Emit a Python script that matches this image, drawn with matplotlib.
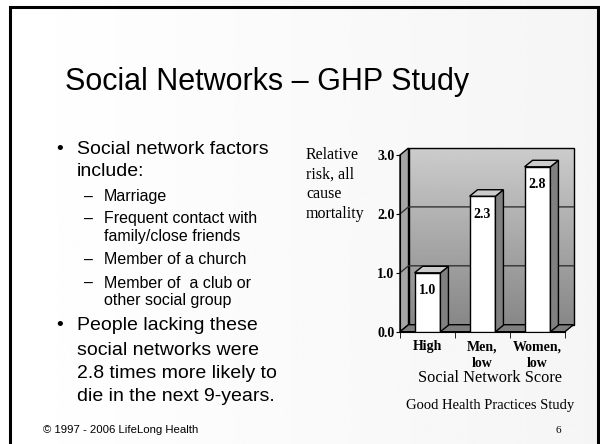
import numpy as np
import matplotlib
matplotlib.use('Agg')
import matplotlib.pyplot as plt
from matplotlib.patches import Polygon, Rectangle

# 데이터
categories = ['High', 'Men,\nlow', 'Women,\nlow']
values = [1.0, 2.3, 2.8]
value_labels = ['1.0', '2.3', '2.8']
y_ticks = [0.0, 1.0, 2.0, 3.0]

title = 'Social Networks \u2013 GHP Study'
# (기호, 줄 목록, 레벨)
bullets = [
    ('\u2022', ['Social network factors', 'include:'], 0),
    ('\u2013', ['Marriage'], 1),
    ('\u2013', ['Frequent contact with', 'family/close friends'], 1),
    ('\u2013', ['Member of a church'], 1),
    ('\u2013', ['Member of  a club or', 'other social group'], 1),
    ('\u2022', ['People lacking these', 'social networks were',
                '2.8 times more likely to', 'die in the next 9-years.'], 0),
]
line_y = [[150, 172], [197], [219, 237], [260], [283, 301], [326, 350, 373, 396]]

W, H = 600, 444
fig = plt.figure(figsize=(6, 4.44), dpi=100)

# 배경 (약간 회색 그라데이션)
bg = fig.add_axes([0, 0, 1, 1])
grad = np.linspace(1.0, 0.96, 256).reshape(1, -1)
bg.imshow(grad, cmap='gray', vmin=0, vmax=1, extent=[0, W, 0, H], aspect='auto')
bg.add_patch(Rectangle((10, -5), 587.5, 442, fill=False, ec='black', lw=2.2))
bg.set_xlim(0, W)
bg.set_ylim(0, H)
bg.axis('off')

sans = 'Liberation Sans'
serif = 'Liberation Serif'

bg.text(267, H - 82, title, fontsize=22, family=sans, ha='center', va='center')

for (mark, lines, lvl), ys in zip(bullets, line_y):
    if lvl == 0:
        bg.text(60, H - ys[0], mark, fontsize=14, family=sans, ha='center', va='center')
        for txt, y in zip(lines, ys):
            bg.text(77, H - y, txt, fontsize=14, family=sans, ha='left', va='center')
    else:
        bg.text(89, H - ys[0], mark, fontsize=11.5, family=sans, ha='center', va='center')
        for txt, y in zip(lines, ys):
            bg.text(104, H - y, txt, fontsize=11.5, family=sans, ha='left', va='center')

bg.text(43, H - 430, '\u00a9 1997 - 2006 LifeLong Health', fontsize=8.2, family=sans,
        ha='left', va='center')
bg.text(558, H - 430, '6', fontsize=8, family=serif, ha='center', va='center')

# 차트 축 (앞면 기준)
ax = fig.add_axes([400 / W, (H - 331.7) / H, 165 / W, 176.7 / H])
ax.patch.set_visible(False)

# 깊이 (픽셀 -> 데이터 단위)
dx = 8.5 * 3 / 165
dy = 7.0 * 3 / 176.7

x0, x1 = -0.5, 2.5
# 뒷벽 그라데이션
wall = np.linspace(0.53, 0.80, 256).reshape(-1, 1)
ax.imshow(wall, cmap='gray', vmin=0, vmax=1, origin='lower', aspect='auto',
          extent=[x0 + dx, x1 + dx, dy, 3 + dy], clip_on=False, zorder=0)
ax.add_patch(Rectangle((x0 + dx, dy), x1 - x0, 3, fill=False, ec='black', lw=1,
                       clip_on=False, zorder=1))
# 왼쪽 벽
ax.add_patch(Polygon([(x0, 0), (x0 + dx, dy), (x0 + dx, 3 + dy), (x0, 3)],
                     closed=True, fc='#a6a6a6', ec='black', lw=1, clip_on=False, zorder=1))
# 바닥
ax.add_patch(Polygon([(x0, 0), (x1, 0), (x1 + dx, dy), (x0 + dx, dy)],
                     closed=True, fc='#7f7f7f', ec='black', lw=1, clip_on=False, zorder=1))
# 그리드
for t in y_ticks[1:-1]:
    ax.plot([x0, x0 + dx, x1 + dx], [t, t + dy, t + dy], color='#333333', lw=1,
            clip_on=False, zorder=1)

ax.set_xlim(-0.5, 2.5)
ax.set_ylim(0, 3)

# 막대
bw = 0.47
bdx = 8.0 * 3 / 165
bdy = 6.5 * 3 / 176.7
xs = np.arange(len(values))
ax.bar(xs, values, width=bw, color='white', edgecolor='black', lw=1, zorder=3)
for x, v, lab in zip(xs, values, value_labels):
    r = x + bw / 2
    l = x - bw / 2
    ax.add_patch(Polygon([(r, 0), (r + bdx, bdy), (r + bdx, v + bdy), (r, v)],
                         closed=True, fc='#808080', ec='black', lw=1, zorder=3, clip_on=False))
    ax.add_patch(Polygon([(l, v), (r, v), (r + bdx, v + bdy), (l + bdx, v + bdy)],
                         closed=True, fc='#cccccc', ec='black', lw=1, zorder=3, clip_on=False))
    ax.annotate(lab, (x, v), xytext=(0, -13), textcoords='offset points',
                ha='center', va='center', fontsize=10, fontweight='bold', family=serif,
                zorder=4)

for s in ['top', 'right']:
    ax.spines[s].set_visible(False)
ax.spines['left'].set_zorder(2)
ax.spines['bottom'].set_zorder(2)

ax.set_yticks(y_ticks)
ax.set_yticklabels(['%.1f' % t for t in y_ticks], fontsize=10, fontweight='bold',
                   family=serif)
ax.tick_params(axis='y', length=3, pad=1)
ax.set_xticks(xs)
ax.set_xticklabels(categories, fontsize=10, fontweight='bold', family=serif)
for t in ax.get_xticklabels():
    t.set_linespacing(1.4)
ax.set_xticks(np.arange(-0.5, 3.0, 1.0), minor=True)
ax.tick_params(axis='x', which='major', length=0, pad=6)
ax.tick_params(axis='x', which='minor', length=4)

fig.text(490 / W, 1 - 378 / H, 'Social Network Score', fontsize=11.8, family=serif,
         ha='center', va='center')
fig.text(490 / W, 1 - 405 / H, 'Good Health Practices Study', fontsize=10.5, family=serif,
         ha='center', va='center')
fig.text(306 / W, 1 - 147 / H, 'Relative\nrisk, all\ncause\nmortality', fontsize=11.5,
         family=serif, ha='left', va='top', linespacing=1.3)

fig.savefig('out.png', dpi=100)
